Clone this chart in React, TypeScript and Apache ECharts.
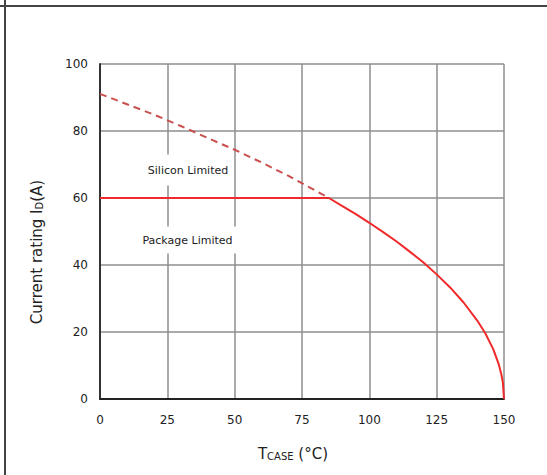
import React, { useEffect, useRef } from "react";
import * as echarts from "echarts";

// Case temperature (°C) and drain current (A) along each limit
const packageTemp = [0, 85];
const packageCurrent = [60, 60];

const deratingTemp = [85, 90, 95, 100, 105, 110, 115, 120, 125, 130, 135, 140, 143, 146, 148, 149, 149.6, 150];
const deratingCurrent = [60, 57.6, 55.2, 52.6, 49.9, 47.1, 44.0, 40.8, 37.2, 33.3, 28.8, 23.5, 19.7, 14.9, 10.5, 7.4, 4.8, 0];

const siliconTemp = [0, 10, 20, 30, 40, 50, 60, 70, 80, 85];
const siliconCurrent = [91.1, 88.0, 84.9, 81.5, 77.9, 74.4, 70.6, 66.6, 62.2, 60];

const xMin = 0;
const xMax = 150;
const xStep = 25;
const yMin = 0;
const yMax = 100;
const yStep = 20;

const FONT = "DejaVu Sans";
const TEXT = "#222";

const pairs = (xs: number[], ys: number[]) => xs.map((x, i) => [x, ys[i]]);

export default function App() {
  const ref = useRef<HTMLDivElement>(null);

  useEffect(() => {
    if (!ref.current) return;
    const chart = echarts.init(ref.current, undefined, { renderer: "svg" });

    const ratedLine = [...pairs(packageTemp, packageCurrent), ...pairs(deratingTemp, deratingCurrent).slice(1)];

    chart.setOption({
      animation: false,
      backgroundColor: "#fff",
      grid: { left: 100, top: 64, width: 404, height: 335, containLabel: false },
      xAxis: {
        type: "value",
        min: xMin,
        max: xMax,
        interval: xStep,
        axisLine: { show: true, onZero: false, lineStyle: { color: "#222", width: 2 } },
        axisTick: { show: false },
        axisLabel: { color: TEXT, fontFamily: FONT, fontSize: 12, margin: 15 },
        splitLine: { show: true, lineStyle: { color: "#8e8e8e", width: 1.5 } },
      },
      yAxis: {
        type: "value",
        min: yMin,
        max: yMax,
        interval: yStep,
        axisLine: { show: true, onZero: false, lineStyle: { color: "#333", width: 2 } },
        axisTick: { show: false },
        axisLabel: { color: TEXT, fontFamily: FONT, fontSize: 12, margin: 12 },
        splitLine: { show: true, lineStyle: { color: "#8e8e8e", width: 1.5 } },
      },
      series: [
        {
          name: "Silicon Limited",
          type: "line",
          data: pairs(siliconTemp, siliconCurrent),
          showSymbol: false,
          symbol: "none",
          lineStyle: { color: "#c9504f", width: 2, type: [7, 5] },
          z: 3,
        },
        {
          name: "Package Limited",
          type: "line",
          data: ratedLine,
          showSymbol: false,
          symbol: "none",
          lineStyle: { color: "#f02a2a", width: 2 },
          z: 4,
        },
      ],
      graphic: [
        { type: "line", shape: { x1: 0, y1: 6, x2: 547, y2: 6 }, style: { stroke: "#444", lineWidth: 2 }, z: 10 },
        { type: "line", shape: { x1: 5, y1: 0, x2: 5, y2: 475 }, style: { stroke: "#444", lineWidth: 2 }, z: 10 },
        {
          type: "text",
          x: 188,
          y: 170,
          z: 20,
          style: {
            text: "Silicon Limited",
            align: "center",
            verticalAlign: "middle",
            font: `11px "${FONT}"`,
            fill: TEXT,
            backgroundColor: "#fff",
            padding: [10, 4],
          },
        },
        {
          type: "text",
          x: 187.5,
          y: 240,
          z: 20,
          style: {
            text: "Package Limited",
            align: "center",
            verticalAlign: "middle",
            font: `11px "${FONT}"`,
            fill: TEXT,
            backgroundColor: "#fff",
            padding: [8, 4],
          },
        },
        {
          type: "text",
          x: 293,
          y: 452,
          z: 20,
          style: {
            text: "{a|T}{s|CASE}{a| (°C)}",
            align: "center",
            verticalAlign: "middle",
            fill: TEXT,
            rich: {
              a: { fontFamily: FONT, fontSize: 15, lineHeight: 18, verticalAlign: "bottom", fill: TEXT },
              s: { fontFamily: FONT, fontSize: 10, lineHeight: 9, verticalAlign: "bottom", fill: TEXT },
            },
          },
        },
        {
          type: "text",
          x: 35,
          y: 252,
          rotation: Math.PI / 2,
          z: 20,
          style: {
            text: "{a|Current rating I}{s|D}{a|(A)}",
            align: "center",
            verticalAlign: "middle",
            fill: TEXT,
            rich: {
              a: { fontFamily: FONT, fontSize: 15, lineHeight: 18, verticalAlign: "bottom", fill: TEXT },
              s: { fontFamily: FONT, fontSize: 10, lineHeight: 9, verticalAlign: "bottom", fill: TEXT },
            },
          },
        },
      ],
    });

    return () => chart.dispose();
  }, []);

  return (
    <div
      ref={ref}
      style={{ position: "fixed", left: 0, top: 0, width: 547, height: 475, background: "#fff" }}
    />
  );
}
